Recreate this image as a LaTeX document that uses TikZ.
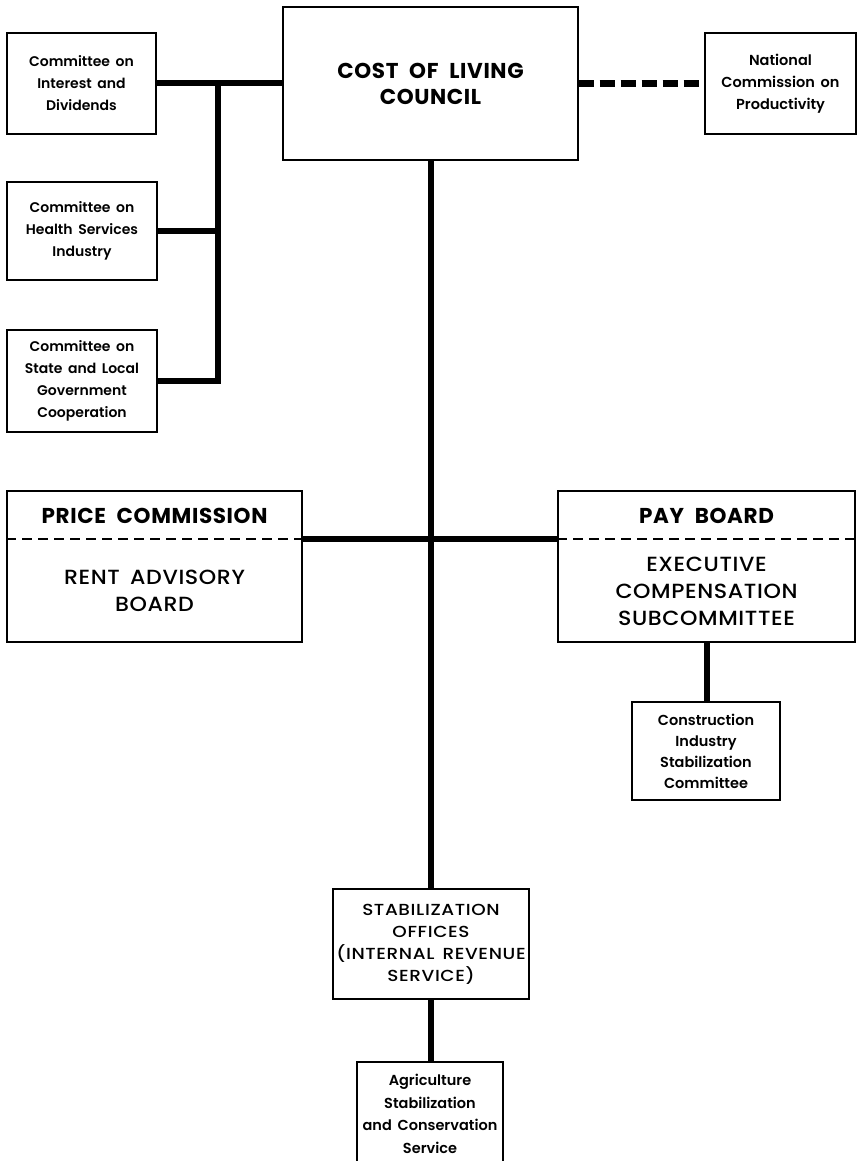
\documentclass[tikz,border=0pt]{standalone}
\usepackage{fontspec}
\setmainfont{Poppins}[UprightFont={* Medium}, BoldFont={* Bold}]
\newcommand{\setwsp}[1]{\spaceskip #1\relax}
\newfontfamily\smallfont{Poppins}[UprightFont={* SemiBold}]
\newfontfamily\capsfont{Poppins}[UprightFont={* Medium}, FakeStretch=1.15, LetterSpace=4]
\newfontfamily\midfont{Poppins}[UprightFont={* Medium}, FakeStretch=1.08, LetterSpace=3]
\newfontfamily\titlefont{Poppins}[UprightFont={* Bold}, LetterSpace=3]
\begin{document}
\begin{tikzpicture}[x=1pt,y=-1pt,
  box/.style={draw, line width=1.3pt, inner sep=0pt, align=center},
  link/.style={line width=6pt},
  dlink/.style={line width=6.5pt, dash pattern=on 15pt off 6pt},
  divider/.style={line width=2pt, dash pattern=on 10pt off 6pt},
  lbl/.style={inner sep=0pt, align=center},
  small/.style={font={\smallfont\fontsize{14}{22}\selectfont\setwsp{0.4em}}},
  smallcaps/.style={font={\capsfont\fontsize{16}{22}\selectfont\setwsp{0.5em}}},
  title/.style={font={\titlefont\fontsize{21.5}{26}\selectfont\setwsp{0.5em}}},
  mid/.style={font={\midfont\fontsize{20.5}{27}\selectfont\setwsp{0.5em}}}
]
\useasboundingbox (0,0) rectangle (857,1161);
% boxes
\node[box, small, minimum width=149pt, minimum height=101pt] (cid) at (81.5,83.5) {Committee on\\Interest and\\Dividends};
\node[box, small, minimum width=150pt, minimum height=98pt] (chs) at (82,231) {Committee on\\Health Services\\Industry};
\node[box, small, minimum width=150pt, minimum height=102pt] (csl) at (82,381) {Committee on\\State and Local\\Government\\Cooperation};
\node[box, title, minimum width=295pt, minimum height=153pt] (col) at (430.5,83.5) {COST OF LIVING\\COUNCIL};
\node[box, small, font={\smallfont\fontsize{14.5}{22}\selectfont\setwsp{0.4em}}, minimum width=151pt, minimum height=101pt] (ncp) at (780.5,83.5) {National\\Commission on\\Productivity};
\node[box, minimum width=295pt, minimum height=151pt] (pc) at (154.5,566.5) {};
\node[box, minimum width=297pt, minimum height=151pt] (pb) at (706.5,566.5) {};
\node[box, font={\smallfont\fontsize{14.5}{21}\selectfont}, minimum width=148pt, minimum height=98pt] (cis) at (706,751) {Construction\\Industry\\Stabilization\\Committee};
\node[box, smallcaps, minimum width=196pt, minimum height=110pt] (stab) at (431,944) {STABILIZATION\\OFFICES\\(INTERNAL REVENUE\\SERVICE)};
\node[box, font={\smallfont\fontsize{14.5}{22.5}\selectfont\setwsp{0.4em}}, minimum width=146pt, minimum height=104pt] (agri) at (430,1114) {Agriculture\\Stabilization\\and Conservation\\Service};
% texts in the split boxes
\node[lbl, title] (pct) at (154.5,515.5) {PRICE COMMISSION};
\node[lbl, mid] (pcb) at (154.5,591) {RENT ADVISORY\\BOARD};
\node[lbl, title] (pbt) at (706.5,515.5) {PAY BOARD};
\node[lbl, mid] (pbb) at (706.5,591.5) {EXECUTIVE\\COMPENSATION\\SUBCOMMITTEE};
% dividers
\coordinate (pcl) at ([yshift=-49pt]pc.north west);
\coordinate (pcr) at ([yshift=-49pt]pc.north east);
\coordinate (pbl) at ([yshift=-49pt]pb.north west);
\coordinate (pbr) at ([yshift=-49pt]pb.north east);
\draw[divider] (pcl) -- (pcr);
\draw[divider] (pbl) -- (pbr);
% connectors
\coordinate (bus) at (218,83.5);
\draw[link] (cid.east) -- (col.west);
\draw[link, line join=miter] (bus) -- (bus |- csl.east) -- (csl.east);
\draw[link] (chs.east) -- (chs.east -| bus);
\draw[dlink] (col.east) -- (ncp.west);
\draw[link] (col.south) -- (col.south |- stab.north);
\draw[link] (pcr) -- (pbl);
\draw[link] (pb.south) -- (pb.south |- cis.north);
\draw[link] (stab.south) -- (stab.south |- agri.north);
\end{tikzpicture}
\end{document}
